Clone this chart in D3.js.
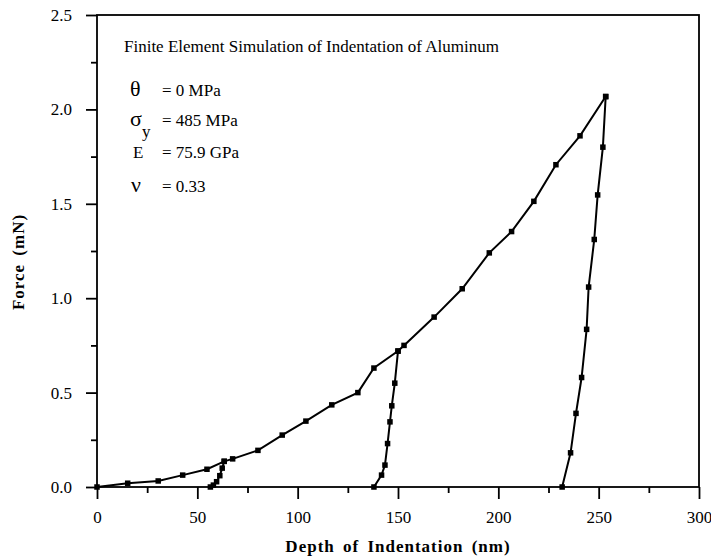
<!DOCTYPE html>
<html>
<head>
<meta charset="utf-8">
<script src="https://cdn.jsdelivr.net/npm/d3@7"></script>
<style>
  html, body { margin: 0; padding: 0; background: #fff; }
  svg text { font-family: "Liberation Serif", "Times New Roman", serif; fill: #000; }
</style>
</head>
<body>
<svg id="chart" width="711" height="559"></svg>
<script>
// ---- data (depth in nm, force in mN) ----
const loadDepth = [0, 15.3, 30.5, 42.7, 54.8, 63.4, 67.6, 80.2, 92.3, 104.1, 117, 130, 138, 150, 153, 168, 182, 195.5, 206.6, 217.7, 228.7, 240.7, 253.5];
const loadForce = [0, 0.02, 0.032, 0.063, 0.094, 0.136, 0.149, 0.194, 0.275, 0.349, 0.435, 0.50, 0.63, 0.72, 0.75, 0.90, 1.05, 1.24, 1.353, 1.513, 1.707, 1.86, 2.068];

const unload1Depth = [63.4, 62.4, 61.2, 59.6, 58.0, 56.5];
const unload1Force = [0.136, 0.10, 0.06, 0.028, 0.01, 0];

const unload2Depth = [150, 148.4, 146.9, 146.0, 144.8, 143.5, 141.8, 138];
const unload2Force = [0.72, 0.55, 0.43, 0.345, 0.23, 0.116, 0.063, 0];

const unload3Depth = [253.5, 252.1, 249.5, 247.8, 245, 244, 241.5, 238.7, 236, 231.8];
const unload3Force = [2.068, 1.80, 1.547, 1.311, 1.059, 0.835, 0.58, 0.39, 0.181, 0];

const xTicks = [0, 50, 100, 150, 200, 250, 300];
const xMinorTicks = [25, 75, 125, 175, 225, 275];
const yTicks = [0, 0.5, 1.0, 1.5, 2.0, 2.5];
const yMinorTicks = [0.25, 0.75, 1.25, 1.75, 2.25];

const titleText = "Finite Element Simulation of Indentation of Aluminum";
const params = [
  { sym: "θ", sub: "", val: "= 0 MPa" },
  { sym: "σ", sub: "y", val: "= 485 MPa" },
  { sym: "E", sub: "", val: "= 75.9 GPa" },
  { sym: "ν", sub: "", val: "= 0.33" }
];

// ---- layout ----
const svg = d3.select("#chart");
const x = d3.scaleLinear().domain([0, 300]).range([97, 699]);
const y = d3.scaleLinear().domain([0, 2.5]).range([487, 15]);

// axes
const gx = svg.append("g").attr("transform", `translate(0,${y(0)})`)
  .call(d3.axisBottom(x).tickValues(xTicks).tickSize(12).tickPadding(12).tickFormat(d3.format("d")));
const gxm = svg.append("g").attr("transform", `translate(0,${y(0)})`)
  .call(d3.axisBottom(x).tickValues(xMinorTicks).tickSize(6).tickFormat(""));
const gy = svg.append("g").attr("transform", `translate(${x(0)},0)`)
  .call(d3.axisLeft(y).tickValues(yTicks).tickSize(11).tickPadding(14).tickFormat(d3.format(".1f")));
const gym = svg.append("g").attr("transform", `translate(${x(0)},0)`)
  .call(d3.axisLeft(y).tickValues(yMinorTicks).tickSize(6).tickFormat(""));

[gx, gxm, gy, gym].forEach(g => {
  g.select(".domain").remove();
  g.selectAll("line").attr("stroke", "#000").attr("stroke-width", 1.8);
  g.selectAll("text").attr("font-size", 17).attr("font-family", "Liberation Serif");
});

// frame
svg.append("rect")
  .attr("x", x(0)).attr("y", y(2.5))
  .attr("width", x(300) - x(0)).attr("height", y(0) - y(2.5))
  .attr("fill", "none").attr("stroke", "#000").attr("stroke-width", 1.8);

// lines
const line = d3.line().x(d => x(d[0])).y(d => y(d[1]));
const series = [
  [loadDepth, loadForce],
  [unload1Depth, unload1Force],
  [unload2Depth, unload2Force],
  [unload3Depth, unload3Force]
];
series.forEach(([xs, ys]) => {
  const pts = xs.map((v, i) => [v, ys[i]]);
  svg.append("path").datum(pts).attr("d", line)
    .attr("fill", "none").attr("stroke", "#000").attr("stroke-width", 2);
  const s = 5.5;
  svg.append("g").selectAll("rect").data(pts).join("rect")
    .attr("x", d => x(d[0]) - s / 2).attr("y", d => y(d[1]) - s / 2)
    .attr("width", s).attr("height", s).attr("fill", "#000");
});

// annotation
svg.append("text").attr("x", 124).attr("y", 52).attr("font-size", 17).text(titleText);

const rowY = [96, 126, 158, 192];
const symX = [130, 130, 133, 131];
params.forEach((p, i) => {
  const isGreek = p.sym !== "E";
  const t = svg.append("text").attr("x", symX[i]).attr("y", rowY[i])
    .attr("font-size", isGreek ? 22 : 17).text(p.sym);
  if (p.sub) {
    svg.append("text").attr("x", symX[i] + 12).attr("y", rowY[i] + 11)
      .attr("font-size", 17).text(p.sub);
  }
  svg.append("text").attr("x", 162).attr("y", rowY[i]).attr("font-size", 17).text(p.val);
});

// axis titles
svg.append("text")
  .attr("x", (x(0) + x(300)) / 2).attr("y", 552)
  .attr("text-anchor", "middle").attr("font-size", 17).attr("font-weight", "bold")
  .attr("letter-spacing", 1).attr("word-spacing", 3)
  .text("Depth of Indentation (nm)");

svg.append("text")
  .attr("transform", "translate(24,262) rotate(-90)")
  .attr("text-anchor", "middle").attr("font-size", 17).attr("font-weight", "bold")
  .attr("letter-spacing", 1).attr("word-spacing", 3)
  .text("Force (mN)");
</script>
</body>
</html>
